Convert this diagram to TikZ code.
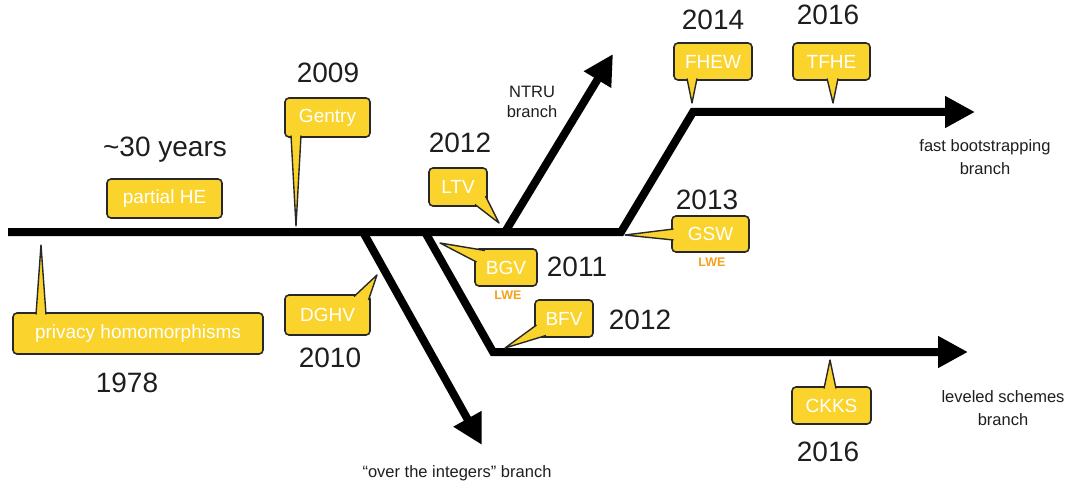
\documentclass[tikz,border=0pt]{standalone}
\usepackage{fontspec}
\setmainfont{Liberation Sans}
\usepackage{tikz}
\usepackage{xcolor}
\usetikzlibrary{arrows.meta}
\definecolor{calloutyellow}{RGB}{250, 212, 45}
\definecolor{calloutedge}{RGB}{40, 40, 40}
\definecolor{lweorange}{RGB}{245, 160, 30}
\definecolor{labelcolor}{RGB}{30, 30, 30}

\begin{document}
\begin{tikzpicture}[x=1pt, y=-1pt,
        callout/.style={fill=calloutyellow, draw=calloutedge, line width=1.6pt, rounded corners=4pt, text=white, font=\fontsize{19}{21}\selectfont, inner sep=0pt},
        tail/.style={fill=calloutyellow, draw=calloutedge, line width=1.4pt, line join=round},
        year/.style={text=labelcolor, font=\fontsize{28}{32}\selectfont},
        branchlabel/.style={text=labelcolor, font=\fontsize{16.5}{23}\selectfont, align=center},
        lwe/.style={text=lweorange, font=\bfseries\fontsize{12.5}{14}\selectfont},
        trunk/.style={line width=8pt, line join=miter},
        arrowed/.style={trunk, -{Triangle[length=30pt, width=30pt]}}]
        \useasboundingbox (0, 0) rectangle (1070, 489);

        % Fork points of the timeline
        \coordinate (trunkstart) at (8, 232);
        \coordinate (intfork) at (363, 232);
        \coordinate (levfork) at (425, 232);
        \coordinate (ntrufork) at (505, 232);
        \coordinate (fastfork) at (621, 232);
        \coordinate (fastbend) at (693, 112);
        \coordinate (fastend) at (975, 112);
        \coordinate (ntruend) at (613, 54);
        \coordinate (intend) at (482, 445);
        \coordinate (levbend) at (493, 352);
        \coordinate (levend) at (968, 352);

        % Branches
        \draw[arrowed] (trunkstart) -- (fastfork) -- (fastbend) -- (fastend);
        \draw[arrowed] (ntrufork) -- (ntruend);
        \draw[arrowed] (intfork) -- (intend);
        \draw[arrowed] (levfork) -- (levbend) -- (levend);

        % Callouts {{{
        \node[callout, minimum width=115pt, minimum height=39pt] (partialhe) at (164.5, 198.5) {partial HE};
        \node[callout, minimum width=250pt, minimum height=41pt] (privacy) at (138, 333.5) {privacy homomorphisms};
        \node[callout, minimum width=85pt, minimum height=39pt] (gentry) at (327.5, 117.5) {Gentry};
        \node[callout, minimum width=58pt, minimum height=38pt] (ltv) at (458, 187) {LTV};
        \node[callout, minimum width=85pt, minimum height=40pt] (dghv) at (327.5, 315) {DGHV};
        \node[callout, minimum width=62pt, minimum height=37pt] (bgv) at (506, 267.5) {BGV};
        \node[callout, minimum width=58pt, minimum height=37pt] (bfv) at (564, 318.5) {BFV};
        \node[callout, minimum width=77pt, minimum height=36pt] (gsw) at (710.5, 234) {GSW};
        \node[callout, minimum width=78pt, minimum height=37pt] (fhew) at (713, 61.5) {FHEW};
        \node[callout, minimum width=77pt, minimum height=37pt] (tfhe) at (831.5, 61.5) {TFHE};
        \node[callout, minimum width=79pt, minimum height=37pt] (ckks) at (831.5, 405.5) {CKKS};

        \coordinate (privacytip) at (41, 245);
        \coordinate (gentrytip) at (296, 226);
        \coordinate (ltvtip) at (499, 223);
        \coordinate (dghvtip) at (377, 275);
        \coordinate (bgvtip) at (440, 243);
        \coordinate (bfvtip) at (505, 348);
        \coordinate (gswtip) at (625, 235);
        \coordinate (fhewtip) at (692, 103);
        \coordinate (tfhetip) at (833, 103);
        \coordinate (ckkstip) at (830, 360);

        \filldraw[tail] (36, 314.5) -- (privacytip) -- (46, 314.5);
        \filldraw[tail] (291, 135.5) -- (gentrytip) -- (301, 135.5);
        \filldraw[tail] (475, 204.5) -- (ltvtip) -- (485.5, 196);
        \filldraw[tail] (354, 296.5) -- (dghvtip) -- (368.5, 300);
        \filldraw[tail] (485, 250.5) -- (bgvtip) -- (476.5, 262);
        \filldraw[tail] (536.5, 325) -- (bfvtip) -- (546, 335.5);
        \filldraw[tail] (673.5, 229) -- (gswtip) -- (673.5, 240);
        \filldraw[tail] (687, 78.5) -- (fhewtip) -- (697, 78.5);
        \filldraw[tail] (827, 78.5) -- (tfhetip) -- (838, 78.5);
        \filldraw[tail] (824, 388.5) -- (ckkstip) -- (836, 388.5);

        \node[lwe] (bgvlwe) at (508, 295) {LWE};
        \node[lwe] (gswlwe) at (712, 262) {LWE};
        % }}}

        % Years
        \node[year] (years30) at (165, 150) {\textasciitilde30 years};
        \node[year] (y1978) at (127, 383) {1978};
        \node[year] (y2009) at (328, 73) {2009};
        \node[year] (y2010) at (330, 358) {2010};
        \node[year] (y2011) at (577, 267) {2011};
        \node[year] (y2012ltv) at (460, 143) {2012};
        \node[year] (y2012bfv) at (640, 320) {2012};
        \node[year] (y2013) at (707, 200) {2013};
        \node[year] (y2014) at (713, 20) {2014};
        \node[year] (y2016tfhe) at (828, 15) {2016};
        \node[year] (y2016ckks) at (828, 452) {2016};

        % Branch names
        \node[branchlabel, font=\fontsize{16.5}{20}\selectfont] (ntrulabel) at (532, 102) {NTRU\\branch};
        \node[branchlabel] (fastlabel) at (985, 157) {fast bootstrapping\\branch};
        \node[branchlabel] (levlabel) at (1003, 408) {leveled schemes\\branch};
        \node[branchlabel] (intlabel) at (457, 473) {“over the integers” branch};
\end{tikzpicture}
\end{document}
